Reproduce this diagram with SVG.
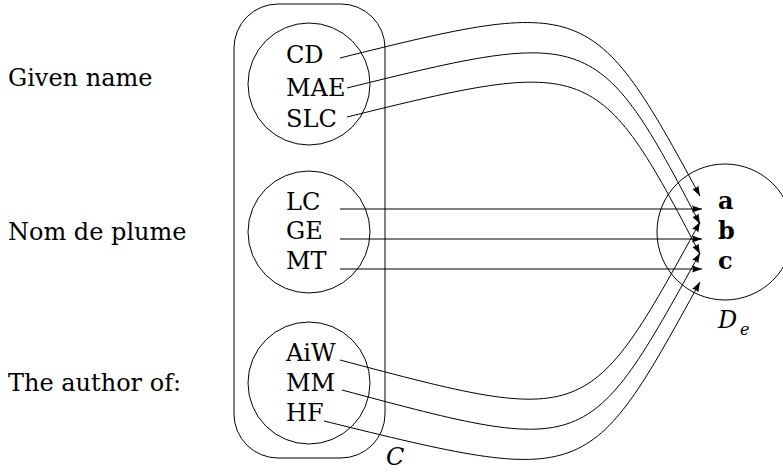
<svg xmlns="http://www.w3.org/2000/svg" width="783" height="472" viewBox="0 0 783 472">
<defs>
<style>
text{font-family:"DejaVu Serif","Liberation Serif",serif;font-size:24px;fill:#000}
.b{font-weight:bold}
.i{font-style:italic}
.sh{fill:none;stroke:#000;stroke-width:1}
.ln{fill:none;stroke:#000;stroke-width:1;marker-end:url(#ah)}
</style>
<marker id="ah" markerUnits="userSpaceOnUse" markerWidth="11" markerHeight="8" refX="10" refY="4" orient="auto">
<path d="M0,0.5 L10,4 L0,7.5 Q2,4 0,0.5 z" fill="#000"/>
</marker>
</defs>
<rect width="783" height="472" fill="#fff"/>
<g id="labels">
<text x="8" y="86">Given name</text>
<text x="8" y="240">Nom de plume</text>
<text x="8" y="391">The author of:</text>
</g>
<g id="C">
<rect class="sh" x="234" y="4" width="151" height="454" rx="44" ry="44"/>
<text class="i" x="386" y="465">C</text>
</g>
<g id="given">
<circle class="sh" cx="309" cy="84" r="61"/>
<text x="286" y="63">CD</text>
<text x="286" y="96">MAE</text>
<text x="286" y="127">SLC</text>
</g>
<g id="plume">
<circle class="sh" cx="309" cy="232" r="61"/>
<text x="286" y="210">LC</text>
<text x="286" y="239">GE</text>
<text x="286" y="269">MT</text>
</g>
<g id="author">
<circle class="sh" cx="309" cy="383" r="61"/>
<text x="286" y="361">AiW</text>
<text x="286" y="391">MM</text>
<text x="286" y="421">HF</text>
</g>
<g id="De">
<circle class="sh" cx="725" cy="232" r="68"/>
<text class="b" x="718" y="209">a</text>
<text class="b" x="718" y="239">b</text>
<text class="b" x="718" y="269">c</text>
<text class="i" x="718" y="328">D</text>
<text class="i" x="740" y="335" style="font-size:16px">e</text>
</g>
<g id="connectors">
<path class="ln" d="M340,58 C585,-3 593,-2 700,196"/>
<path class="ln" d="M347,88 C590,28 598,28 700,224"/>
<path class="ln" d="M347,117 C590,57 598,58 700,254"/>
<path class="ln" d="M340,209 L702,209"/>
<path class="ln" d="M340,239 L702,239"/>
<path class="ln" d="M340,269 L702,269"/>
<path class="ln" d="M340,360 C588,426 588,426 700,222"/>
<path class="ln" d="M342,390 C588,456 588,456 700,253"/>
<path class="ln" d="M324,421 C588,486 588,486 700,282"/>
</g>
</svg>
